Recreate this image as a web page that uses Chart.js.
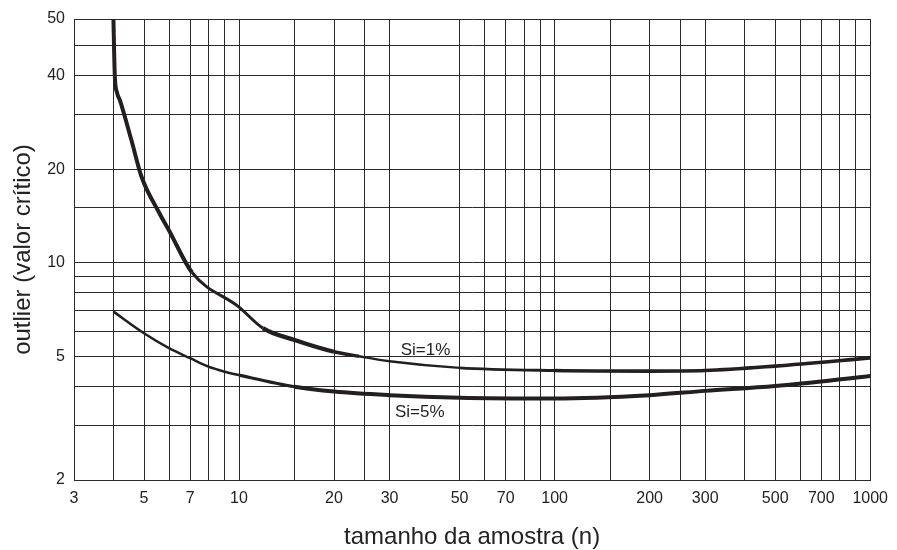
<!DOCTYPE html>
<html>
<head>
<meta charset="utf-8">
<script src="https://cdn.jsdelivr.net/npm/chart.js@4"></script>
<style>
  html, body { margin: 0; padding: 0; background: #fff; }
  canvas { display: block; }
</style>
</head>
<body>
<canvas id="outlierChart" width="897" height="550"></canvas>
<script>
// Critical values (sample size n vs value)
const n1 = [4.0, 4.02, 4.04, 4.11, 4.19, 4.56, 4.91, 5.6, 6, 7.1, 10, 11.9, 15, 20, 24, 30, 50, 100, 200, 300, 500, 1000];
const si1 = [60.8, 48, 40, 35.1, 33.4, 24.8, 18.9, 14.4, 12.7, 9.3, 7.2, 6.16, 5.64, 5.17, 5.0, 4.82, 4.59, 4.5, 4.48, 4.5, 4.65, 4.94];
const n5 = [4, 5, 6, 7, 8, 9, 10, 15, 20, 30, 50, 100, 200, 300, 500, 1000];
const si5 = [6.96, 5.93, 5.31, 4.93, 4.63, 4.46, 4.35, 3.99, 3.85, 3.75, 3.68, 3.66, 3.75, 3.87, 4.01, 4.32];

// Grid lines and tick labels
const xGrid = [3, 4, 5, 6, 7, 8, 9, 10, 15, 20, 25, 30, 50, 60, 70, 80, 90, 100, 150, 200, 250, 300, 400, 500, 600, 700, 800, 900, 1000];
const xLabels = [3, 5, 7, 10, 20, 30, 50, 70, 100, 200, 300, 500, 700, 1000];
const yGrid = [2, 3, 4, 5, 6, 7, 8, 9, 10, 15, 20, 30, 40, 50, 60.8];
const yLabels = { 2: '2', 5: '5', 10: '10', 20: '20', 40: '40', 60.8: '50' };

// Curve names and where they sit (n, value)
const curveNames = ['Si=1%', 'Si=5%'];
const nameAt = [[39, 5.22], [37.4, 3.30]];

const INK = '#231f20';
const FONT = '"Liberation Sans", Arial, sans-serif';

const curveNamePlugin = {
  id: 'curveNames',
  afterDatasetsDraw(chart) {
    const { ctx, scales: { x, y } } = chart;
    ctx.save();
    ctx.font = '17px ' + FONT;
    ctx.fillStyle = INK;
    ctx.textAlign = 'center';
    ctx.textBaseline = 'middle';
    curveNames.forEach((name, i) => {
      ctx.fillText(name, x.getPixelForValue(nameAt[i][0]), y.getPixelForValue(nameAt[i][1]));
    });
    ctx.restore();
  }
};

// stroke gets thicker / thinner along the curves like the printed figure
const widthSi1 = (c) => {
  const n = c.p0.parsed.x;
  if (n < 7.1) return 4;
  if (n < 11.9) return 3;
  if (n < 20) return 4.2;
  if (n < 24) return 3.4;
  if (n < 50) return 2.4;
  if (n < 100) return 2.9;
  return 3.6;
};
const widthSi5 = (c) => {
  const n = c.p0.parsed.x;
  if (n < 10) return 2.5;
  if (n < 15) return 3.2;
  return 4;
};

new Chart(document.getElementById('outlierChart').getContext('2d'), {
  type: 'line',
  data: {
    datasets: [
      {
        label: curveNames[0],
        data: n1.map((n, i) => ({ x: n, y: si1[i] })),
        borderColor: INK,
        borderWidth: 3,
        borderJoinStyle: 'round',
        pointRadius: 0,
        cubicInterpolationMode: 'monotone',
        segment: { borderWidth: widthSi1 },
      },
      {
        label: curveNames[1],
        data: n5.map((n, i) => ({ x: n, y: si5[i] })),
        borderColor: INK,
        borderWidth: 3,
        borderJoinStyle: 'round',
        pointRadius: 0,
        cubicInterpolationMode: 'monotone',
        segment: { borderWidth: widthSi5 },
      },
    ],
  },
  options: {
    responsive: false,
    animation: false,
    devicePixelRatio: 1,
    layout: { padding: { top: 19, right: 24, left: 0, bottom: 0 } },
    plugins: {
      legend: { display: false },
      tooltip: { enabled: false },
    },
    scales: {
      x: {
        type: 'logarithmic',
        min: 3,
        max: 1000,
        afterBuildTicks: (s) => { s.ticks = xGrid.map((v) => ({ value: v })); },
        afterFit: (s) => { s.height = 70; },
        grid: { color: '#2a2a2a', lineWidth: 1, drawTicks: false },
        border: { color: '#2a2a2a' },
        ticks: {
          autoSkip: false,
          maxRotation: 0,
          padding: 9,
          color: '#222',
          font: { family: FONT, size: 16 },
          callback: (v) => (xLabels.includes(v) ? String(v) : ''),
        },
        title: {
          display: true,
          text: 'tamanho da amostra (n)',
          color: '#222',
          font: { family: FONT, size: 24, lineHeight: 1 },
          padding: { top: 0, bottom: 1 },
        },
      },
      y: {
        type: 'logarithmic',
        min: 2,
        max: 60.8,
        afterBuildTicks: (s) => { s.ticks = yGrid.map((v) => ({ value: v })); },
        afterFit: (s) => { s.width = 74; },
        grid: { color: '#2a2a2a', lineWidth: 1, drawTicks: false },
        border: { color: '#2a2a2a' },
        ticks: {
          autoSkip: false,
          padding: 9,
          color: '#222',
          font: { family: FONT, size: 16 },
          callback: (v) => yLabels[v] || '',
        },
        title: {
          display: true,
          text: 'outlier (valor crítico)',
          color: '#222',
          font: { family: FONT, size: 24, lineHeight: 1.2 },
          padding: { top: 9, bottom: 0 },
        },
      },
    },
  },
  plugins: [curveNamePlugin],
});
</script>
</body>
</html>
